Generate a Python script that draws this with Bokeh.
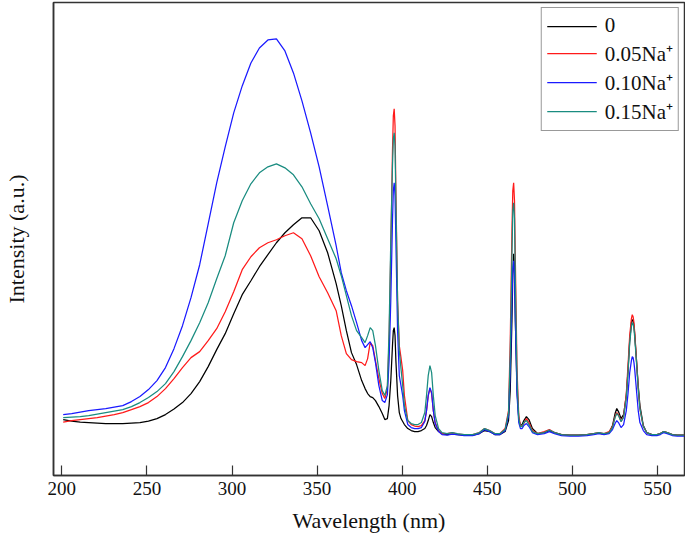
from bokeh.plotting import figure
from bokeh.models import Range1d, FixedTicker, Legend, LegendItem
from bokeh.embed import file_html
from bokeh.resources import INLINE

# Wavelength grid (nm)
wavelength = [200.8, 205.8, 210.8, 215.8, 220.8, 225.8, 230.8, 235.8, 240.9, 245.9, 250.9, 255.9, 260.9, 265.9,
              270.9, 275.9, 281.0, 286.0, 291.0, 296.0, 301.0, 306.0, 311.1, 316.1, 321.1, 326.1, 331.1, 336.1,
              341.1, 346.2, 351.2, 356.2, 361.2, 364.2, 367.2, 370.2, 373.2, 376.2, 378.2, 379.7, 381.2, 382.7,
              384.3, 386.3, 388.3, 389.8, 391.3, 392.3, 393.3, 394.3, 394.8, 395.3, 395.8, 396.3, 397.3, 398.3,
              399.3, 400.3, 401.3, 403.3, 405.3, 407.3, 409.3, 411.3, 413.3, 414.3, 415.3, 416.3, 417.3, 418.3,
              419.4, 421.4, 423.4, 426.4, 429.4, 432.4, 436.4, 441.4, 445.4, 448.4, 451.4, 454.4, 457.5, 460.5,
              462.5, 463.5, 464.5, 465.0, 465.5, 466.0, 466.5, 467.5, 468.5, 469.5, 470.5, 471.5, 473.0, 474.5,
              476.5, 479.5, 483.5, 486.5, 489.5, 493.6, 498.6, 503.6, 508.6, 512.6, 515.6, 518.6, 521.6, 523.6,
              525.1, 526.1, 527.1, 528.6, 530.1, 531.7, 532.7, 533.7, 534.7, 535.2, 535.7, 536.2, 536.7, 537.7,
              538.7, 539.7, 541.7, 543.7, 546.7, 549.7, 551.7, 553.7, 555.7, 558.7, 561.7, 565.8]

# Intensity (a.u.) for each sample
int_0 = [59, 57.5, 56.5, 56, 55.5, 55, 55, 55, 55.5, 56, 57.5, 60, 64, 69.5, 76, 85, 97, 112, 129, 145,
         165, 184, 198, 212, 224, 236, 246, 254, 261, 261, 248, 226, 195, 173, 148, 126, 114, 98, 90, 85,
         82, 81, 78, 72, 65, 59, 60, 73, 98, 133, 148, 151, 143, 118, 83, 66, 60, 57, 54, 50,
         48, 47, 47, 48, 50, 53, 58, 64, 62, 56, 51, 47, 45, 44, 44.5, 44, 43.5, 43.5, 45, 48,
         47, 44, 44, 47, 58, 88, 158, 203, 225, 213, 158, 88, 60, 53, 54, 58, 62, 59, 50, 45,
         46, 48, 46, 44, 43.5, 43.5, 44, 45, 45.5, 44.5, 46, 53, 65, 70, 67, 60, 64, 83, 108, 138,
         156, 159, 158, 153, 143, 118, 93, 73, 53, 46, 44, 44, 45, 47, 46, 44, 43.5, 43.5]

int_005 = [56.5, 58, 59, 60, 61, 62.5, 64, 66, 69, 72, 76, 82, 90, 100, 111, 121, 127, 138, 150, 167,
           187, 209, 222, 231, 236, 239, 243, 246, 240, 223, 202, 186, 168, 143, 125, 119, 117, 116, 113, 120,
           136, 133, 118, 100, 85, 80, 90, 138, 228, 328, 363, 370, 353, 288, 178, 133, 121, 108, 83, 58,
           54, 52.5, 52, 53, 58, 68, 83, 90, 85, 68, 56, 48, 45, 45, 46, 44.5, 44, 44, 46, 50,
           48, 45, 45, 50, 68, 138, 248, 288, 296, 278, 218, 108, 63, 53, 52, 55, 60, 56, 48, 45,
           47, 49, 46, 44, 43.5, 43.5, 44, 45, 46, 45, 47, 52, 62, 66, 64, 57, 62, 85, 113, 143,
           160, 164, 162, 156, 145, 118, 91, 70, 52, 46, 44, 44, 45, 47, 46, 44, 43.5, 43.5]

int_010 = [64, 65, 66.5, 68, 69, 70, 71.5, 73, 77, 82, 89, 98, 111, 130, 153, 181, 214, 255, 296, 332,
           366, 393, 416, 431, 439, 440, 428, 406, 378, 346, 312, 273, 233, 206, 188, 173, 156, 138, 131, 134,
           137, 131, 116, 93, 78, 76, 84, 118, 178, 258, 288, 296, 283, 238, 148, 103, 93, 83, 68, 54,
           51, 50, 50, 51, 57, 68, 83, 91, 86, 68, 55, 47, 44, 43.5, 44.5, 44, 43, 43, 45, 49,
           47, 44, 44, 48, 63, 108, 178, 210, 218, 206, 158, 83, 56, 50, 50, 53, 55, 52, 46, 44,
           45, 47, 45, 43, 42.5, 42.5, 43, 44, 45, 44, 45, 49, 55, 58, 56, 51, 54, 68, 85, 106,
           118, 122, 121, 116, 108, 88, 68, 56, 48, 44, 43, 43, 44, 46, 45, 43, 42.5, 42.5]

int_015 = [61, 61.5, 62, 63, 64.5, 66, 67.5, 69, 72, 76, 81, 87, 95, 107, 122, 138, 156, 176, 200, 223,
           256, 278, 295, 306, 312, 315, 311, 304, 292, 275, 260, 240, 220, 203, 183, 163, 148, 141, 136, 143,
           151, 148, 133, 108, 88, 83, 93, 148, 238, 313, 340, 346, 333, 278, 178, 128, 110, 93, 73, 58,
           55, 54, 54, 56, 66, 83, 103, 113, 106, 83, 63, 50, 46, 45, 46, 45, 44, 44, 46, 50,
           48, 45, 45, 49, 66, 123, 223, 268, 276, 260, 198, 98, 60, 52, 52, 56, 58, 54, 47, 45,
           46, 48.5, 46, 44, 43.5, 43.5, 44, 45, 46, 45, 46, 51, 61, 65, 63, 57, 61, 81, 106, 136,
           152, 156, 155, 150, 140, 116, 90, 70, 52, 46, 44, 44, 45, 47, 46, 44, 43.5, 43.5]

series_labels = ["0", "0.05Na\u207a", "0.10Na\u207a", "0.15Na\u207a"]
series_colors = ["#000000", "#ff1a1a", "#1a1aff", "#1a8c80"]
x_ticks = [200, 250, 300, 350, 400, 450, 500, 550]

FONT = "Liberation Serif"
AX = "#333333"

p = figure(width=685, height=541, x_range=Range1d(195.1, 565.9), y_range=Range1d(3, 476.5),
           output_backend="svg", toolbar_location=None,
           min_border_left=47, min_border_right=1, min_border_top=2, min_border_bottom=66,
           background_fill_color="white", border_fill_color="white")

p.grid.visible = False
p.outline_line_color = AX
p.outline_line_width = 1.5

renderers = []
for ys, c in zip([int_0, int_005, int_010, int_015], series_colors):
    r = p.line(wavelength, ys, line_color=c, line_width=1.25)
    renderers.append(r)

p.xaxis.ticker = FixedTicker(ticks=x_ticks)
p.xaxis.minor_tick_line_color = None
p.xaxis.major_tick_in = 10
p.xaxis.major_tick_out = 0
p.xaxis.major_tick_line_color = AX
p.xaxis.major_tick_line_width = 1.2
p.xaxis.axis_line_color = AX
p.xaxis.axis_line_width = 1.5
p.xaxis.major_label_text_font = FONT
p.xaxis.major_label_text_font_size = "19px"
p.xaxis.major_label_text_color = "#111111"
p.xaxis.major_label_standoff = 6
p.xaxis.axis_label = "Wavelength (nm)"
p.xaxis.axis_label_text_font = FONT
p.xaxis.axis_label_text_font_size = "22px"
p.xaxis.axis_label_text_font_style = "normal"
p.xaxis.axis_label_text_color = "#111111"
p.xaxis.axis_label_standoff = 10

p.yaxis.ticker = FixedTicker(ticks=[])
p.yaxis.minor_tick_line_color = None
p.yaxis.major_tick_line_color = None
p.yaxis.axis_line_color = AX
p.yaxis.axis_line_width = 1.5
p.yaxis.axis_label = "Intensity (a.u.)"
p.yaxis.axis_label_text_font = FONT
p.yaxis.axis_label_text_font_size = "22px"
p.yaxis.axis_label_text_font_style = "normal"
p.yaxis.axis_label_text_color = "#111111"
p.yaxis.axis_label_standoff = 25

legend = Legend(items=[LegendItem(label=l, renderers=[r]) for l, r in zip(series_labels, renderers)],
                location="top_right")
legend.margin = 5
legend.padding = 5
legend.spacing = 1
legend.glyph_width = 50
legend.glyph_height = 20
legend.label_height = 22
legend.label_standoff = 8
legend.label_text_font = FONT
legend.label_text_font_size = "21px"
legend.label_text_color = "#111111"
legend.border_line_color = AX
legend.border_line_width = 1.5
legend.background_fill_color = "white"
legend.background_fill_alpha = 1.0
p.add_layout(legend)

open("out.html", "w").write(file_html(p, INLINE))
